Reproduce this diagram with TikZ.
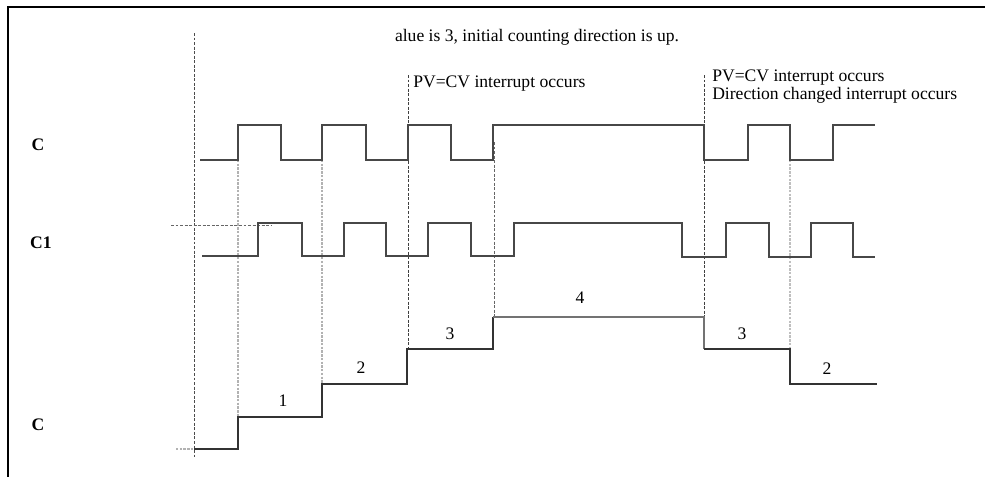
\documentclass[tikz,border=0pt]{standalone}
\usepackage{fontspec}
\setmainfont{Liberation Serif}
\begin{document}
\begin{tikzpicture}[x=0.75pt,y=-0.75pt,
  sig/.style={draw=black!72, line width=1.1pt, line join=miter},
  cnt/.style={draw=black!80, line width=1.2pt},
  guide/.style={draw=black!60, line width=0.7pt, dash pattern=on 2.2pt off 1.2pt},
  lguide/.style={draw=black!30, line width=0.9pt, dash pattern=on 1.8pt off 1pt},
  txt/.style={font=\fontsize{13.2}{13}\selectfont, inner sep=0pt},
  lbl/.style={font=\fontsize{13.2}{13}\selectfont\bfseries, inner sep=0pt},
  num/.style={font=\fontsize{13.2}{13}\selectfont, inner sep=0pt}]
\useasboundingbox (0,0) rectangle (985,476);
% frame (left and top edges visible)
\draw[line width=1.5pt] (8,480) -- (8,7) -- (990,7);
% texts
\node[txt] (title) at (537,37) {alue is 3, initial counting direction is up.};
\node[txt, anchor=west] (pva) at (413,84) {PV=CV interrupt occurs};
\node[txt, anchor=west] (pvb) at (712,78) {PV=CV interrupt occurs};
\node[txt, anchor=west] (dir) at (712,95) {Direction changed interrupt occurs};
% row labels
\node[lbl] (lc) at (38,145) {C};
\node[lbl] (lc1) at (41,243) {C1};
\node[lbl] (lcnt) at (38,425) {C};
% guide lines
\draw[guide, draw=black!70] (194,33) -- (194,457);
\draw[lguide] (238,160) -- (238,417);
\draw[lguide] (322,160) -- (322,384);
\draw[guide, draw=black!75] (408,75) -- (408,349);
\draw[guide] (494,142) -- (494,317);
\draw[guide, draw=black!75] (704,75) -- (704,317);
\draw[lguide, draw=black!25] (790,160) -- (790,355);
\draw[guide] (171,225) -- (272,225);
\draw[lguide] (176,449) -- (194,449);
% clock C
\draw[sig] (200,160) -- (238,160) -- (238,125) -- (281,125) -- (281,160) -- (322,160) -- (322,125) -- (366,125) -- (366,160) -- (408,160) -- (408,125) -- (451,125) -- (451,160) -- (493,160) -- (493,125) -- (704,125) -- (704,160) -- (748,160) -- (748,125) -- (790,125) -- (790,160) -- (833,160) -- (833,125) -- (875,125);
% C1
\draw[sig] (202,256) -- (258,256) -- (258,223) -- (302,223) -- (302,256) -- (344,256) -- (344,223) -- (386,223) -- (386,256) -- (428,256) -- (428,223) -- (471,223) -- (471,256) -- (514,256) -- (514,223) -- (682,223) -- (682,257) -- (726,257) -- (726,223) -- (769,223) -- (769,257) -- (811,257) -- (811,223) -- (853,223) -- (853,257) -- (875,257);
% counter
\draw[cnt] (194,449) -- (238,449) -- (238,417) -- (322,417) -- (322,384) -- (407,384) -- (407,349) -- (493,349) -- (493,317);
\draw[cnt, draw=black!55] (493,317) -- (704,317) -- (704,349);
\draw[cnt] (704,349) -- (790,349) -- (790,384) -- (877,384);
% counter values
\node[num] (n1) at (283,401) {1};
\node[num] (n2) at (361,368) {2};
\node[num] (n3) at (450,334) {3};
\node[num] (n4) at (580,298) {4};
\node[num] (n5) at (742,334) {3};
\node[num] (n6) at (827,369) {2};
\end{tikzpicture}
\end{document}
